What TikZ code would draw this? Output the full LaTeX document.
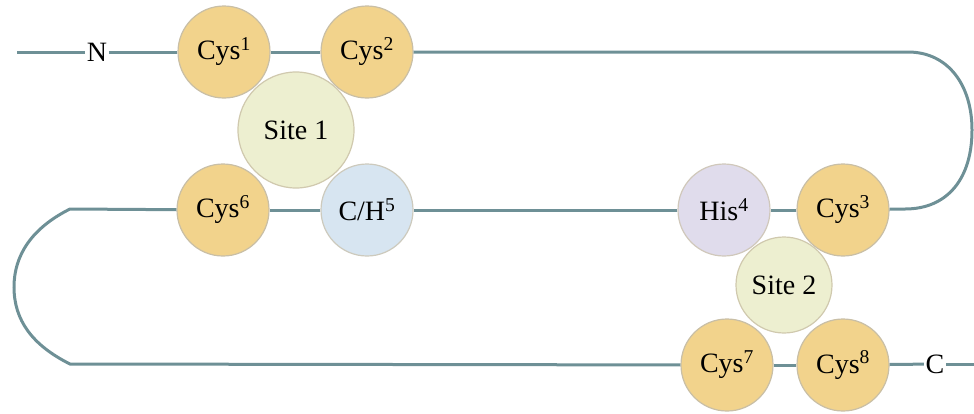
\documentclass[tikz,border=0pt]{standalone}
\usepackage{fontspec}
\setmainfont{Liberation Serif}
\definecolor{chainc}{HTML}{6E9096}
\definecolor{ringc}{HTML}{C9BFA6}
\definecolor{cysc}{HTML}{F2D38C}
\definecolor{sitec}{HTML}{EDEFD0}
\definecolor{hisc}{HTML}{E0DCEC}
\definecolor{chc}{HTML}{D7E5F1}
\begin{document}
\begin{tikzpicture}[x=1pt,y=-1pt,
  res/.style={circle, draw=ringc, line width=1.2pt, minimum size=92pt, inner sep=0pt,
    font=\fontsize{28}{28}\selectfont},
  cys/.style={res, fill=cysc},
  site/.style={res, fill=sitec, draw=ringc!80!sitec},
  his/.style={res, fill=hisc, draw=ringc!70!hisc},
  ch/.style={res, fill=chc, draw=ringc!70!chc},
  term/.style={inner sep=1.5pt, font=\fontsize{28}{28}\selectfont},
  chain/.style={draw=chainc, line width=3pt}]
\useasboundingbox (0,0) rectangle (974,413);

% residues and binding sites
\node[cys] (cys1) at (224,52) {Cys\textsuperscript{1}};
\node[cys] (cys2) at (367,52) {Cys\textsuperscript{2}};
\node[site, minimum size=116pt] (site1) at (296,130) {Site 1};
\node[cys] (cys6) at (223,210) {Cys\textsuperscript{6}};
\node[ch] (ch5) at (367,210) {C/H\textsuperscript{5}};
\node[his] (his4) at (724,210) {His\textsuperscript{4}};
\node[cys] (cys3) at (843,210) {Cys\textsuperscript{3}};
\node[site, minimum size=96pt] (site2) at (784,285) {Site 2};
\node[cys] (cys7) at (727,365) {Cys\textsuperscript{7}};
\node[cys] (cys8) at (843,365) {Cys\textsuperscript{8}};

% termini
\node[term] (nterm) at (97,52) {N};
\node[term] (cterm) at (935,364) {C};
\coordinate (nend) at (17,52);
\coordinate (cend) at (974,364);

% loop turning points
\coordinate (rt) at (908,52);
\coordinate (rb) at (905,209);
\coordinate (lt) at (70,209);
\coordinate (lb) at (70,364);

% backbone
\draw[chain] (nend) -- (nterm);
\draw[chain] (nterm) -- (cys1);
\draw[chain] (cys1) -- (cys2);
\draw[chain] (cys2) -- (rt) .. controls (948,52) and (972,85) .. (972,130)
  .. controls (972,178) and (948,209) .. (rb) -- (cys3);
\draw[chain] (cys3) -- (his4);
\draw[chain] (his4) -- (ch5);
\draw[chain] (ch5) -- (cys6);
\draw[chain] (cys6) -- (lt) .. controls (32,228) and (14,255) .. (14,287)
  .. controls (14,320) and (32,345) .. (lb) -- (cys7);
\draw[chain] (cys7) -- (cys8);
\draw[chain] (cys8) -- (cterm);
\draw[chain] (cterm) -- (cend);
\end{tikzpicture}
\end{document}
